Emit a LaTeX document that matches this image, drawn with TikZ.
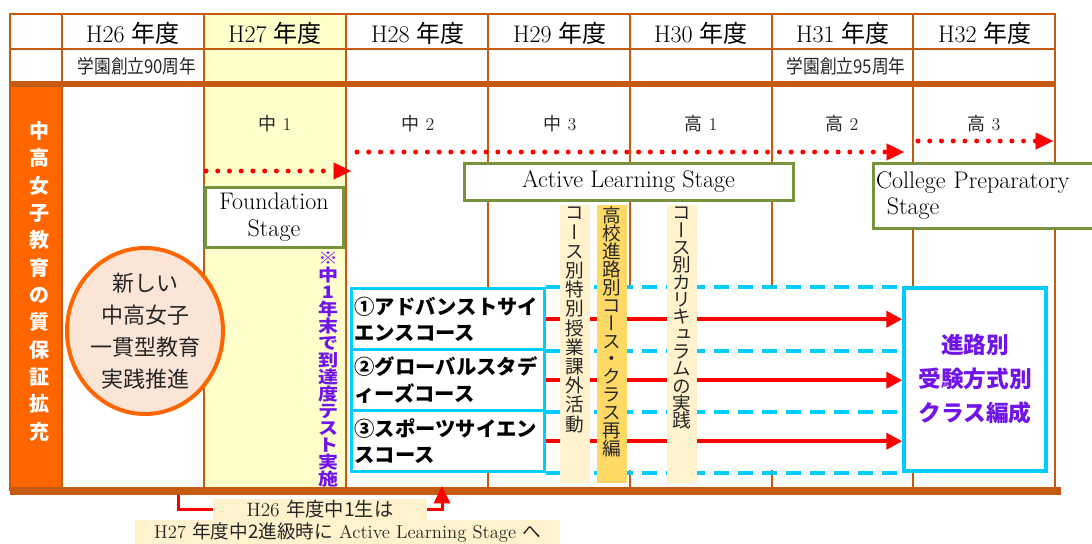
\documentclass[tikz,border=0pt]{standalone}
\usepackage{fontspec}
\usetikzlibrary{arrows.meta,shapes.geometric}
\newfontfamily\jp{Noto Sans CJK JP}
\newfontfamily\jpv{Noto Sans CJK JP}[RawFeature=+vert]

\definecolor{tabline}{RGB}{197,90,17}
\definecolor{sideorange}{RGB}{255,102,0}
\definecolor{h27yellow}{RGB}{255,255,204}
\definecolor{stagegreen}{RGB}{119,147,60}
\definecolor{coursecyan}{RGB}{0,204,255}
\definecolor{notepurple}{RGB}{112,20,235}
\definecolor{stripbeige}{RGB}{255,242,204}
\definecolor{stripgold}{RGB}{255,217,102}
\definecolor{visionfill}{RGB}{251,229,214}

% one character per line
\newcommand\tatebox[2]{\vbox{\baselineskip=#1\lineskiplimit=-\maxdimen\tateaux#2\relax}}
\def\tateaux#1{\ifx\relax#1\else\hbox to 1em{\hss#1\hss}\expandafter\tateaux\fi}

\tikzset{
  tabrule/.style={draw=tabline,line width=1.5pt},
  tabbar/.style={draw=tabline,line width=4.5pt},
  yearlbl/.style={inner sep=0.75pt,font=\fontsize{18}{21}\selectfont},
  annivlbl/.style={inner sep=0.75pt,text=black!85,font=\jp\fontsize{14.25}{17}\selectfont},
  gradelbl/.style={inner sep=0.75pt,text=black!85,font=\fontsize{13.5}{16}\selectfont},
  stagebox/.style={draw=stagegreen,line width=2.25pt,fill=white,inner sep=1pt,font=\fontsize{18}{20}\selectfont},
  coursebox/.style={draw=coursecyan,line width=2.6pt,fill=white,anchor=north west,align=left,
    text width=140.5pt,inner xsep=2.1pt,minimum height=45.75pt,font=\jp\bfseries\fontsize{15.25}{19.9}\selectfont},
  result/.style={draw=coursecyan,line width=2.6pt,fill=white,minimum width=106.5pt,minimum height=137.25pt,
    align=center,text=notepurple,font=\jp\bfseries\fontsize{17}{25.5}\selectfont},
  lane/.style={draw=coursecyan,line width=3pt,dash pattern=on 11pt off 7pt},
  flow/.style={draw=red,line width=3pt,-{Triangle[length=12pt,width=12pt]}},
  dotflow/.style={draw=red,line width=3.75pt,line cap=round,dash pattern=on 0pt off 8.8pt,
    -{Triangle[length=13pt,width=12.75pt,line width=0.01pt]}},
  vision/.style={ellipse,draw=sideorange,line width=3pt,fill=visionfill,minimum width=117pt,
    minimum height=124.5pt,inner sep=0pt,align=center,text=black!85,font=\jp\fontsize{16.5}{24}\selectfont},
  sidetxt/.style={anchor=north,inner sep=0pt,text=white,font=\jp\bfseries\fontsize{15}{15}\selectfont},
  notetxt/.style={anchor=north,inner sep=0pt,text=notepurple,font=\jp\bfseries\fontsize{15}{15}\selectfont},
  striptxt/.style={anchor=north,inner sep=0pt,text=black!85,font=\jpv\fontsize{14}{14}\selectfont},
  notebox/.style={fill=stripbeige,inner sep=0pt,text=black!85,font=\fontsize{14.5}{17}\selectfont},
  bracket/.style={draw=red,line width=2.25pt}
}

\begin{document}
\begin{tikzpicture}[x=0.75pt,y=0.75pt,yscale=-1,xscale=1]
\useasboundingbox (0,0) rectangle (1092,543);

%Shape: Rectangle [H27 column]
\fill[h27yellow] (204,14) rectangle (346,489);
%Shape: Rectangle [side band]
\fill[sideorange] (10,87) rectangle (62,488);

%Straight Lines [table]
\foreach \x in {62,204,346,488,630,772,913}
  \draw[tabrule] (\x,14) -- (\x,488);
\draw[tabrule] (10,14) rectangle (1055,490);
\draw[tabrule] (10,49) -- (1055,49);
\draw[tabbar] (10,84) -- (1055,84);
\draw[tabbar,line width=6pt] (10,491) -- (1061,491);

%Shape: Rectangle [lane area]
\fill[white] (543,288) rectangle (905,470);

% Text Node
\foreach \x/\n in {133/26,275/27,418/28,560/29,701/30,843/31,985/32}
  \draw (\x,33) node[yearlbl] (yr\n) {H\n\ {\jp 年度}};
% Text Node
\draw (137,66) node[annivlbl] (anniv90) {\scalebox{0.88}[1]{学園創立90周年}};
% Text Node
\draw (846,66) node[annivlbl] (anniv95) {\scalebox{0.88}[1]{学園創立95周年}};
% Text Node
\foreach \x/\g/\n [count=\i] in {275/中/1,418/中/2,560/中/3,701/高/1,842/高/2,984/高/3}
  \draw (\x,124) node[gradelbl] (grade\i) {{\jp \g} \n};

% Text Node
\draw (39,121) node[sidetxt] (theme) {\tatebox{20.5pt}{中高女子教育の質保証拡充}};
% Text Node
\draw (145,331) node[vision] (vision) {新しい\\中高女子\\一貫型教育\\実践推進};

%Straight Lines [stage arrows]
\coordinate (jh1s) at (206,171);
\coordinate (jh1e) at (351,171);
\draw[dotflow] (jh1s) -- (jh1e);
\coordinate (alss) at (357,152);
\coordinate (alse) at (904,152);
\draw[dotflow] (alss) -- (alse);
\coordinate (cpss) at (918,141);
\coordinate (cpse) at (1053,141);
\draw[dotflow] (cpss) -- (cpse);

% Text Node
\draw (274,217) node[stagebox,minimum width=103.5pt,minimum height=45pt,align=center] (found) {Foundation\\Stage};
% Text Node
\draw (628.5,181.5) node[stagebox,minimum width=246.75pt,minimum height=27.75pt] (active) {Active Learning Stage};
% Text Node
\draw (872,195.5) node[stagebox,anchor=west,text width=168pt,inner xsep=2pt,minimum height=48.75pt,align=left] (college) {College Preparatory\\\hspace*{8pt}Stage};

% Text Node
\draw (328,252) node[notetxt] (test) {\scalebox{1}[0.85]{\tatebox{15pt}{※中1年末で到達度テスト実施}}};

% Text Node
\draw (350,287) node[coursebox] (adv) {①アドバンストサイ\\エンスコース};
% Text Node
\draw (350,348) node[coursebox] (glob) {②グローバルスタデ\\ィーズコース};
% Text Node
\draw (350,409) node[coursebox] (sport) {③スポーツサイエン\\スコース};
% Text Node
\draw (975,379.5) node[result] (classes) {進路別\\受験方式別\\クラス編成};

%Straight Lines [lanes]
\draw[lane] (adv.north east) -- (adv.north east -| classes.west);
\draw[lane] (adv.south east) -- (adv.south east -| classes.west);
\draw[lane] (glob.south east) -- (glob.south east -| classes.west);
\draw[lane] (sport.south east) -- (sport.south east -| classes.west);
\draw[flow] (adv.east) -- (adv.east -| classes.west);
\draw[flow] (glob.east) -- (glob.east -| classes.west);
\draw[flow] (sport.east) -- (sport.east -| classes.west);

%Shape: Rectangle [strips]
\fill[stripbeige] (560,205) rectangle (590,483);
\fill[stripgold] (597,205) rectangle (627,483);
\fill[stripbeige] (667,205) rectangle (697,483);
% Text Node
\draw (575,207) node[striptxt] (extra) {\tatebox{14.4pt}{コース別特別授業課外活動}};
% Text Node
\draw (612,207) node[striptxt] (regroup) {\tatebox{13.4pt}{高校進路別コース・クラス再編}};
% Text Node
\draw (682,207) node[striptxt] (curric) {\tatebox{13pt}{コース別カリキュラムの実践}};

% Text Node
\draw (347.5,533) node[notebox,minimum width=318.75pt,minimum height=20pt,font=\fontsize{14}{16}\selectfont] (note2) {H27 {\jp 年度中2進級時に} Active Learning Stage {\jp へ}};
% Text Node
\draw (320,509.5) node[notebox,minimum width=160.5pt,minimum height=15.75pt] (note1) {H26 {\jp 年度中1生は}};

%Straight Lines [note bracket]
\coordinate (from26) at (178,495);
\coordinate (to27) at (442,486);
\draw[bracket] (from26) |- (note1.west);
\draw[bracket,-{Triangle[length=13pt,width=12pt]}] (note1.east) -| (to27);

\end{tikzpicture}
\end{document}
